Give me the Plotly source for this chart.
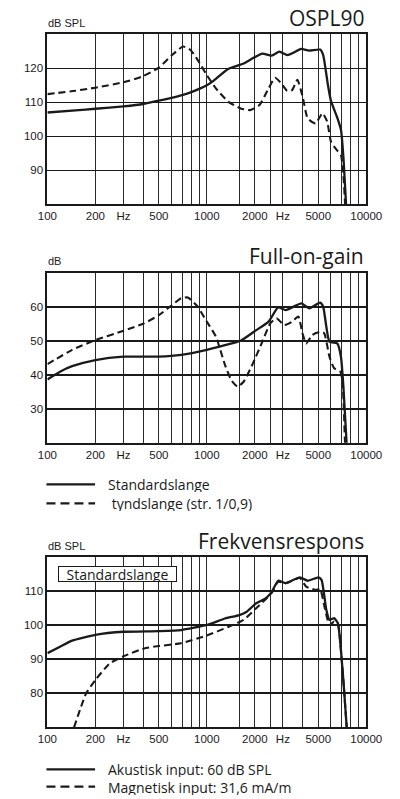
import plotly.graph_objects as go

W, H = 400, 799

# ---------------- data ----------------
# OSPL90
ospl_std_f = [100, 150, 200, 300, 400, 500, 600, 700, 800, 1000, 1100, 1360, 1700, 1950, 2230, 2550,
              2850, 3200, 3500, 3900, 4380, 5140, 5370, 5750, 6000, 6580, 6950, 7200, 7460, 7600]
ospl_std_v = [107.0, 107.6, 108.1, 108.8, 109.5, 110.5, 111.3, 112.1, 113.0, 115.0, 116.3, 119.8, 121.4,
              123.0, 124.3, 123.7, 124.9, 123.9, 124.6, 125.7, 125.2, 125.5, 123.9, 115.1, 110.5, 105.5,
              101.8, 93.5, 80.5, 75]
ospl_thin_f = [100, 150, 200, 300, 390, 500, 605, 710, 790, 870, 1000, 1140, 1360, 1630, 1870, 2140, 2440,
               2680, 2930, 3200, 3430, 3700, 4010, 4290, 4800, 5320, 5690, 6010, 6520, 6940, 7190, 7360, 7500]
ospl_thin_v = [112.4, 113.4, 114.3, 115.9, 117.5, 120.2, 123.9, 126.4, 125.4, 122.7, 118.0, 114.1, 110.2,
               108.2, 107.7, 109.2, 114.1, 117.2, 115.6, 113.3, 113.6, 116.6, 111.2, 105.3, 103.8, 106.8,
               104.3, 98.4, 96.0, 94.5, 88.6, 80.5, 75]

# Full-on-gain
gain_std_f = [100, 120, 143, 200, 300, 500, 690, 1000, 1300, 1630, 2040, 2440, 2800, 3130, 3920, 4390,
              5140, 5370, 5880, 6580, 6940, 7190, 7530, 7700]
gain_std_v = [38.6, 40.9, 42.5, 44.3, 45.3, 45.3, 45.8, 47.3, 48.7, 50.0, 53.1, 55.6, 59.8, 59.0, 61.0,
              59.5, 61.2, 60.0, 49.7, 49.2, 45.3, 36.5, 20.0, 15]
gain_thin_f = [100, 143, 200, 300, 404, 500, 605, 690, 760, 870, 1000, 1140, 1300, 1424, 1560, 1705,
               1950, 2230, 2500, 2735, 3060, 3430, 3750, 3980, 4200, 4590, 5140, 5450, 5880, 6290, 6880,
               7120, 7360, 7500]
gain_thin_v = [43.1, 47.3, 50.2, 52.9, 55.1, 57.5, 60.5, 62.5, 62.7, 60.2, 55.6, 51.2, 42.9, 38.4, 36.5,
               38.0, 43.4, 49.7, 55.1, 56.6, 54.6, 55.6, 57.1, 52.2, 49.2, 51.7, 52.6, 52.2, 45.3, 41.9,
               40.9, 37.5, 20.0, 15]

# Frekvensrespons
fr_ac_f = [100, 120, 143, 200, 300, 500, 690, 1000, 1300, 1600, 1780, 2040, 2340, 2560, 2800, 3130, 3830,
           4290, 5020, 5250, 5620, 5880, 6290, 6640, 6940, 7260, 7530, 7700]
fr_ac_v = [91.8, 93.7, 95.5, 97.2, 98.1, 98.3, 98.6, 100.1, 102.0, 103.0, 104.0, 106.5, 107.9, 109.9, 113.1,
           112.4, 114.1, 113.1, 114.1, 113.3, 104.5, 101.6, 102.1, 100.6, 92.7, 81.0, 70.5, 65]
fr_mag_f = [147, 160, 175, 200, 246, 298, 404, 499, 687, 1000, 1360, 1700, 2040, 2560, 2800, 3130, 3830,
            4200, 4800, 5140, 5500, 5880, 6290, 6640, 6940, 7260, 7530, 7700]
fr_mag_v = [70.0, 75.1, 80.0, 83.9, 88.8, 90.8, 93.2, 93.9, 94.7, 97.0, 99.5, 101.6, 105.0, 109.6, 112.8,
            112.4, 113.9, 111.4, 110.4, 110.6, 105.0, 100.1, 101.1, 100.3, 92.7, 81.0, 70.5, 65]

x_tickvals = [100, 200, 300, 500, 1000, 2000, 3000, 5000, 10000]
x_ticktext = ["100", "200", "Hz", "500", "1000", "2000", "Hz", "5000", "10000"]
x_gridvals = [200, 300, 400, 500, 600, 700, 800, 900, 1000, 1600, 2000, 2500, 3000, 4000, 5000,
              6000, 7000, 8000, 9000]

panels = [
    dict(title="OSPL90", unit="dB SPL", yrange=[80, 130], yticks=[90, 100, 110, 120],
         top=34.3, std=(ospl_std_f, ospl_std_v), thin=(ospl_thin_f, ospl_thin_v)),
    dict(title="Full-on-gain", unit="dB", yrange=[20, 70], yticks=[30, 40, 50, 60],
         top=272.7, std=(gain_std_f, gain_std_v), thin=(gain_thin_f, gain_thin_v)),
    dict(title="Frekvensrespons", unit="dB SPL", yrange=[70, 120], yticks=[80, 90, 100, 110],
         top=557.3, std=(fr_ac_f, fr_ac_v), thin=(fr_mag_f, fr_mag_v)),
]

# ---------------- layout helpers ----------------
X0, X1 = 40, 381
PH = 170
INK = "#1a1a1a"
TICKFONT = dict(family="Liberation Sans, Arial, sans-serif", size=11.5, color=INK)
TITLEFONT = dict(family="Open Sans, Noto Sans, sans-serif", size=21, color=INK)
LEGFONT = dict(family="Open Sans, Noto Sans, sans-serif", size=14, color=INK)


def px(x):
    return x / W


def py(y):
    return 1 - y / H


fig = go.Figure()
layout = dict(width=W, height=H, margin=dict(l=0, r=0, t=0, b=0),
              paper_bgcolor="white", plot_bgcolor="white", showlegend=False)
annotations = []
shapes = []

for i, p in enumerate(panels):
    n = "" if i == 0 else str(i + 1)
    xa, ya = "x" + n, "y" + n
    fig.add_trace(go.Scatter(x=p["std"][0], y=p["std"][1], mode="lines", xaxis=xa, yaxis=ya,
                             line=dict(color=INK, width=2.3, shape="spline", smoothing=0.5)))
    fig.add_trace(go.Scatter(x=p["thin"][0], y=p["thin"][1], mode="lines", xaxis=xa, yaxis=ya,
                             line=dict(color=INK, width=2.1, dash="7px,4px", shape="spline",
                                       smoothing=0.5)))
    top = p["top"]
    bot = top + PH
    layout["xaxis" + n] = dict(
        type="log", range=[2, 4], domain=[px(X0), px(X1)], anchor=ya,
        tickmode="array", tickvals=x_tickvals, ticktext=x_ticktext, tickfont=TICKFONT,
        ticks="", showgrid=False, zeroline=False,
        showline=True, mirror=True, linecolor=INK, linewidth=2,
        minor=dict(tickmode="array", tickvals=x_gridvals, showgrid=True,
                   gridcolor="#2a2a2a", gridwidth=1, ticks=""),
    )
    layout["yaxis" + n] = dict(
        range=p["yrange"], domain=[py(bot), py(top)], anchor=xa,
        tickmode="array", tickvals=p["yticks"], tickfont=TICKFONT, ticks="",
        showgrid=True, gridcolor=INK, gridwidth=1.6, zeroline=False,
        showline=True, mirror=True, linecolor=INK, linewidth=2,
    )
    # title (right) and unit label (left)
    annotations.append(dict(text=p["title"], xref="paper", yref="paper", x=px(X1), y=py(top - 16.5),
                            xanchor="right", yanchor="middle", showarrow=False, font=TITLEFONT))
    annotations.append(dict(text=p["unit"], xref="paper", yref="paper", x=px(X0 - 1), y=py(top - 11.5),
                            xanchor="left", yanchor="middle", showarrow=False,
                            font=dict(TICKFONT, size=11)))

# "Standardslange" box inside Frekvensrespons panel
annotations.append(dict(text="Standardslange", xref="paper", yref="paper", x=px(115), y=py(574),
                        xanchor="center", yanchor="middle", showarrow=False, font=LEGFONT,
                        bordercolor=INK, borderwidth=1, borderpad=0, bgcolor="white",
                        width=117, height=14))

# legends
legends = [
    (484.3, "Standardslange", 103, None),
    (503.3, " tyndslange (str. 1/0,9)", 103, "9px,5px"),
    (769.3, "Akustisk input: 60 dB SPL", 103, None),
    (786.7, "Magnetisk input: 31,6 mA/m", 103, "9px,5px"),
]
for y, label, tx, dash in legends:
    line = dict(color=INK, width=2.3)
    if dash:
        line["dash"] = dash
    shapes.append(dict(type="line", xref="paper", yref="paper", x0=px(39), x1=px(91),
                       y0=py(y), y1=py(y), line=line))
    annotations.append(dict(text=label, xref="paper", yref="paper", x=px(tx), y=py(y),
                            xanchor="left", yanchor="middle", showarrow=False, font=LEGFONT,
                            height=16))

layout["annotations"] = annotations
layout["shapes"] = shapes
fig.update_layout(**layout)
fig.write_html("out.html", config={"displayModeBar": False, "staticPlot": True},
               post_script="document.body.style.margin='0';document.body.style.overflow='hidden';")
